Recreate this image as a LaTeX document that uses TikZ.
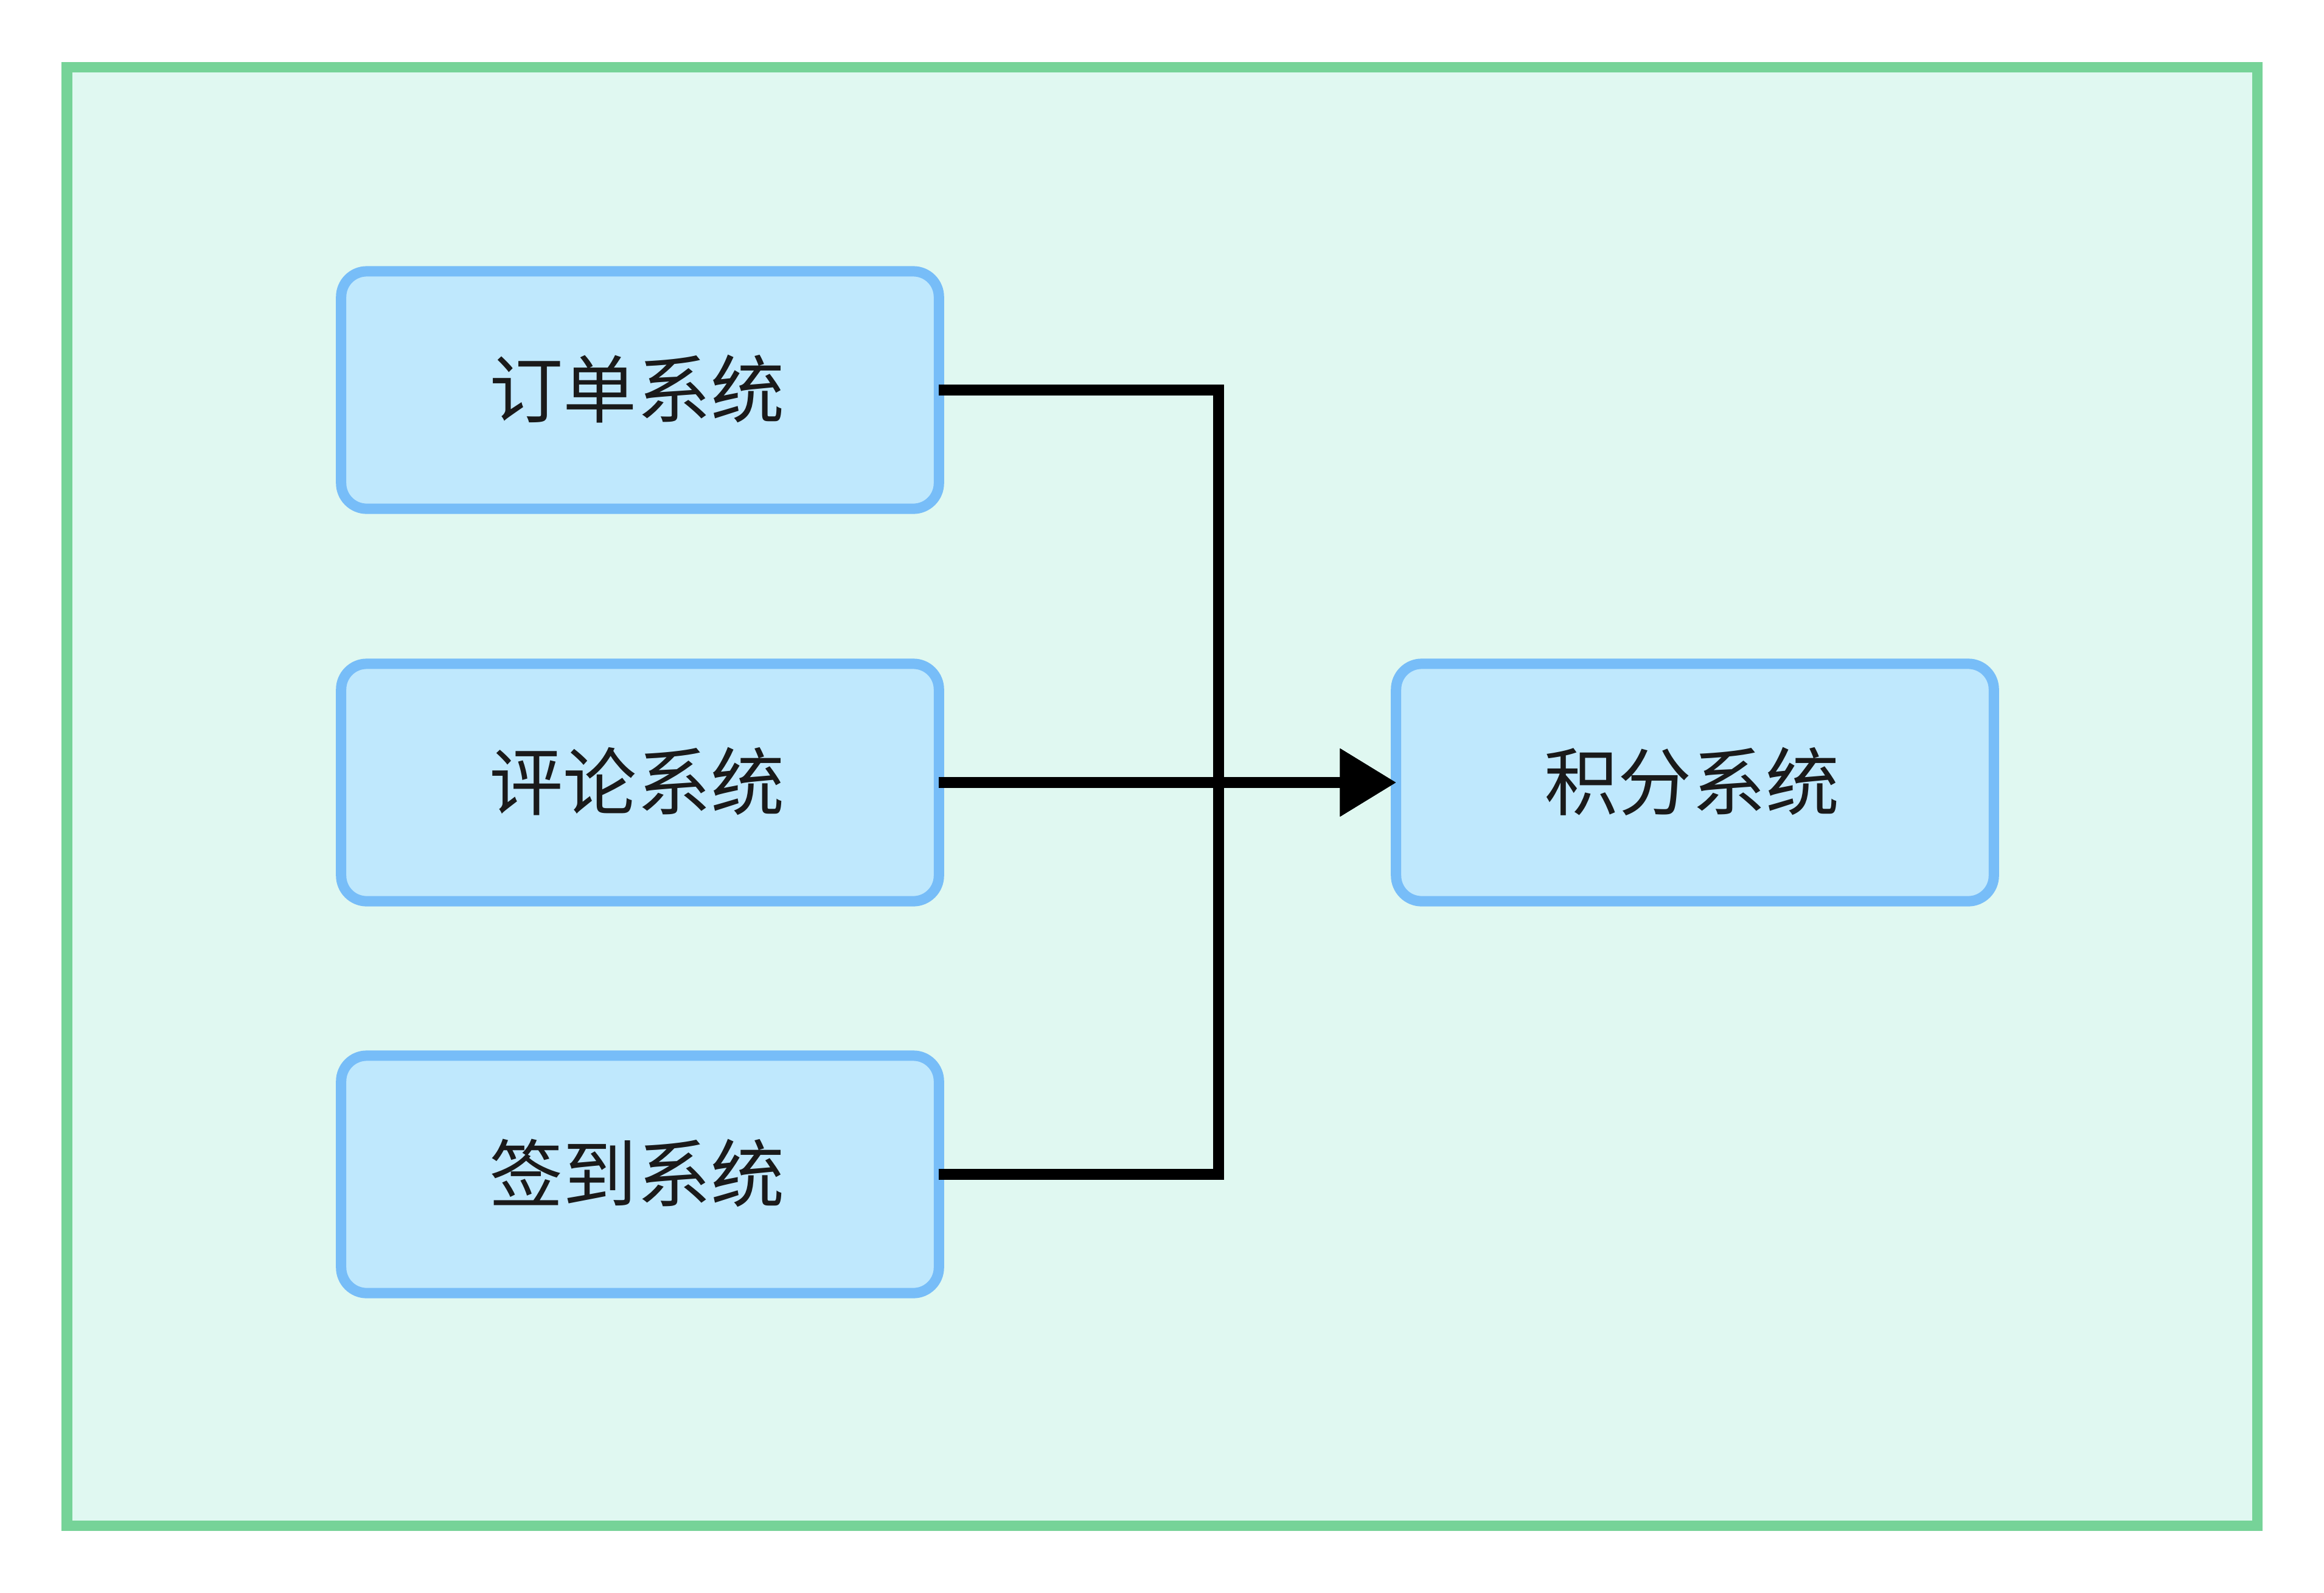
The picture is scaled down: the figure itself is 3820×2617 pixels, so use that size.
\documentclass[tikz,border=0pt]{standalone}
\usepackage{fontspec}
\newfontfamily\cjk{Noto Sans CJK SC}
\usetikzlibrary{arrows.meta}
\definecolor{framefill}{HTML}{E0F8F1}
\definecolor{frameline}{HTML}{76D398}
\definecolor{boxfill}{HTML}{BFE8FD}
\definecolor{boxline}{HTML}{77BDF8}
\definecolor{txt}{HTML}{1A1A1A}
\newcommand{\boxlabel}[1]{\raisebox{3.6pt}{\kern-2.8pt#1}}
\begin{document}
\begin{tikzpicture}[x=0.01cm,y=-0.01cm,
  sysbox/.style={draw=boxline, fill=boxfill, line width=0.17cm, rounded corners=0.42cm,
    minimum width=9.82cm, minimum height=3.90cm, outer sep=0pt, inner sep=0pt,
    font=\cjk\fontsize{34.5pt}{40pt}\selectfont, text=txt},
  conn/.style={draw=black, line width=0.175cm, -{Triangle[length=0.92cm,width=1.07cm]}}]
\useasboundingbox (0,0) rectangle (3820,2617);
\draw[draw=frameline, fill=framefill, line width=0.17cm] (110,110) rectangle (3710,2507);
\node[sysbox] (order) at (1052,641) {\boxlabel{订单系统}};
\node[sysbox] (comment) at (1052,1286) {\boxlabel{评论系统}};
\node[sysbox] (checkin) at (1052,1930) {\boxlabel{签到系统}};
\node[sysbox] (points) at (2786,1286) {\boxlabel{积分系统}};
\coordinate (bus) at (2003,1286);
\draw[conn] (order.east) -| (bus) -- (points.west);
\draw[conn] (comment.east) -- (points.west);
\draw[conn] (checkin.east) -| (bus) -- (points.west);
\end{tikzpicture}
\end{document}
